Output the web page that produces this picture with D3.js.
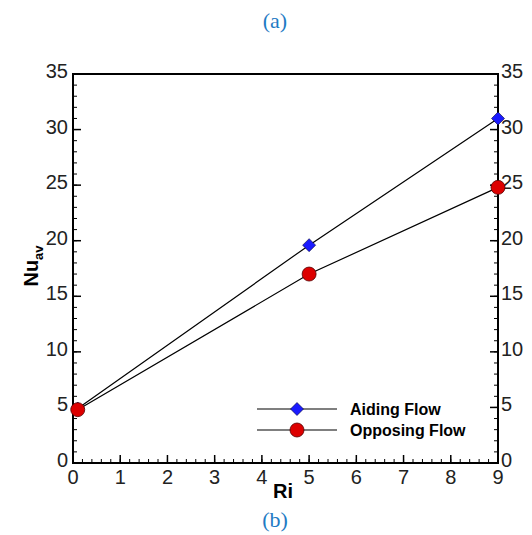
<!DOCTYPE html>
<html>
<head>
<meta charset="utf-8">
<script src="https://cdn.jsdelivr.net/npm/d3@7"></script>
<style>
  body { margin: 0; background: #fff; }
  svg text { font-family: "Liberation Sans", Arial, sans-serif; }
</style>
</head>
<body>
<svg id="chart" width="532" height="535"></svg>
<script>
// data
var ri = [0.1, 5, 9];
var aidingNu = [4.9, 19.6, 31.0];
var opposingNu = [4.8, 17.0, 24.8];
var seriesNames = ['Aiding Flow', 'Opposing Flow'];
var xTicks = [0, 1, 2, 3, 4, 5, 6, 7, 8, 9];
var yTicks = [0, 5, 10, 15, 20, 25, 30, 35];

var svg = d3.select('#chart');
// note: "top" is reserved on window, so use plot* names
var plotL = 73, plotR = 498, plotT = 74, plotB = 463;

var x = d3.scaleLinear().domain([0, 9]).range([plotL, plotR]);
var y = d3.scaleLinear().domain([0, 35]).range([plotB, plotT]);

// captions
svg.append('text').attr('x', 275).attr('y', 28)
    .attr('text-anchor', 'middle')
    .style('font-family', '"Liberation Serif", "Times New Roman", serif')
    .style('font-size', '22px').style('fill', '#1f7bc4').text('(a)');
svg.append('text').attr('x', 275).attr('y', 527)
    .attr('text-anchor', 'middle')
    .style('font-family', '"Liberation Serif", "Times New Roman", serif')
    .style('font-size', '22px').style('fill', '#1f7bc4').text('(b)');

// minor + major ticks, all pointing inward
var g = svg.append('g');
var xMinor = d3.range(0, 9.001, 0.2);
var yMinor = d3.range(0, 35.001, 1);

g.selectAll('.xminor').data(xMinor).enter().append('line')
    .attr('x1', function(d) { return x(d); })
    .attr('x2', function(d) { return x(d); })
    .attr('y1', plotB).attr('y2', plotB - 4)
    .style('stroke', '#000').style('stroke-width', 1);

g.selectAll('.xmajor').data(xTicks).enter().append('line')
    .attr('x1', function(d) { return x(d); })
    .attr('x2', function(d) { return x(d); })
    .attr('y1', plotB).attr('y2', plotB - 8)
    .style('stroke', '#000').style('stroke-width', 1.5);

[plotL, plotR].forEach(function(px) {
    var dir = px === plotL ? 1 : -1;
    g.selectAll(null).data(yMinor).enter().append('line')
        .attr('x1', px).attr('x2', px + dir * 4)
        .attr('y1', function(d) { return y(d); })
        .attr('y2', function(d) { return y(d); })
        .style('stroke', '#000').style('stroke-width', 1);
    g.selectAll(null).data(yTicks).enter().append('line')
        .attr('x1', px).attr('x2', px + dir * 8)
        .attr('y1', function(d) { return y(d); })
        .attr('y2', function(d) { return y(d); })
        .style('stroke', '#000').style('stroke-width', 1.5);
});

// frame
svg.append('rect')
    .attr('x', plotL).attr('y', plotT)
    .attr('width', plotR - plotL).attr('height', plotB - plotT)
    .style('fill', 'none').style('stroke', '#000').style('stroke-width', 2);

// tick labels
svg.selectAll('.xlab').data(xTicks).enter().append('text')
    .attr('x', function(d) { return x(d); })
    .attr('y', plotB + 21)
    .attr('text-anchor', 'middle')
    .style('font-size', '20px').style('fill', '#222')
    .text(function(d) { return d; });

svg.selectAll('.ylab').data(yTicks).enter().append('text')
    .attr('x', plotL - 5)
    .attr('y', function(d) { return y(d) + 4; })
    .attr('text-anchor', 'end')
    .style('font-size', '20px').style('fill', '#222')
    .text(function(d) { return d; });

svg.selectAll('.ylabr').data(yTicks).enter().append('text')
    .attr('x', plotR + 3)
    .attr('y', function(d) { return y(d) + 4; })
    .attr('text-anchor', 'start')
    .style('font-size', '20px').style('fill', '#222')
    .text(function(d) { return d; });

// axis titles
svg.append('text').attr('x', 283).attr('y', 498)
    .attr('text-anchor', 'middle')
    .style('font-size', '20px').style('font-weight', 'bold').text('Ri');

var yt = svg.append('text')
    .attr('transform', 'translate(38,266) rotate(-90)')
    .attr('text-anchor', 'middle')
    .style('font-size', '20px').style('font-weight', 'bold');
yt.append('tspan').text('Nu');
yt.append('tspan').attr('dy', 5).style('font-size', '13px').text('av');

// series
var line = d3.line()
    .x(function(d) { return x(d[0]); })
    .y(function(d) { return y(d[1]); });

var aiding = ri.map(function(d, i) { return [d, aidingNu[i]]; });
var opposing = ri.map(function(d, i) { return [d, opposingNu[i]]; });

[aiding, opposing].forEach(function(s) {
    svg.append('path').datum(s).attr('d', line)
        .style('fill', 'none').style('stroke', '#000').style('stroke-width', 1.2);
});

// square diamond, like the plotting package draws it
var dSize = 6.5;
var diamondPath = 'M0,' + (-dSize) + 'L' + dSize + ',0L0,' + dSize + 'L' + (-dSize) + ',0Z';

function drawDiamond(sel) {
    sel.append('path').attr('d', diamondPath)
        .style('fill', '#1a1aff').style('stroke', '#000033').style('stroke-width', 0.6);
}
function drawCircle(sel) {
    sel.append('circle').attr('r', 7)
        .style('fill', '#dd0000').style('stroke', '#550000').style('stroke-width', 0.8);
}

svg.selectAll('.ad').data(aiding).enter().append('g')
    .attr('transform', function(d) { return 'translate(' + x(d[0]) + ',' + y(d[1]) + ')'; })
    .call(drawDiamond);
svg.selectAll('.op').data(opposing).enter().append('g')
    .attr('transform', function(d) { return 'translate(' + x(d[0]) + ',' + y(d[1]) + ')'; })
    .call(drawCircle);

// legend
var legend = svg.append('g').attr('transform', 'translate(257,409)');
seriesNames.forEach(function(name, i) {
    var row = legend.append('g').attr('transform', 'translate(0,' + (i * 21) + ')');
    row.append('line').attr('x1', 0).attr('x2', 80).attr('y1', 0).attr('y2', 0)
        .style('stroke', '#000').style('stroke-width', 1.2);
    var m = row.append('g').attr('transform', 'translate(40,0)');
    if (i === 0) drawDiamond(m); else drawCircle(m);
    row.append('text').attr('x', 93).attr('y', 6)
        .style('font-size', '16px').style('font-weight', 'bold').text(name);
});
</script>
</body>
</html>
